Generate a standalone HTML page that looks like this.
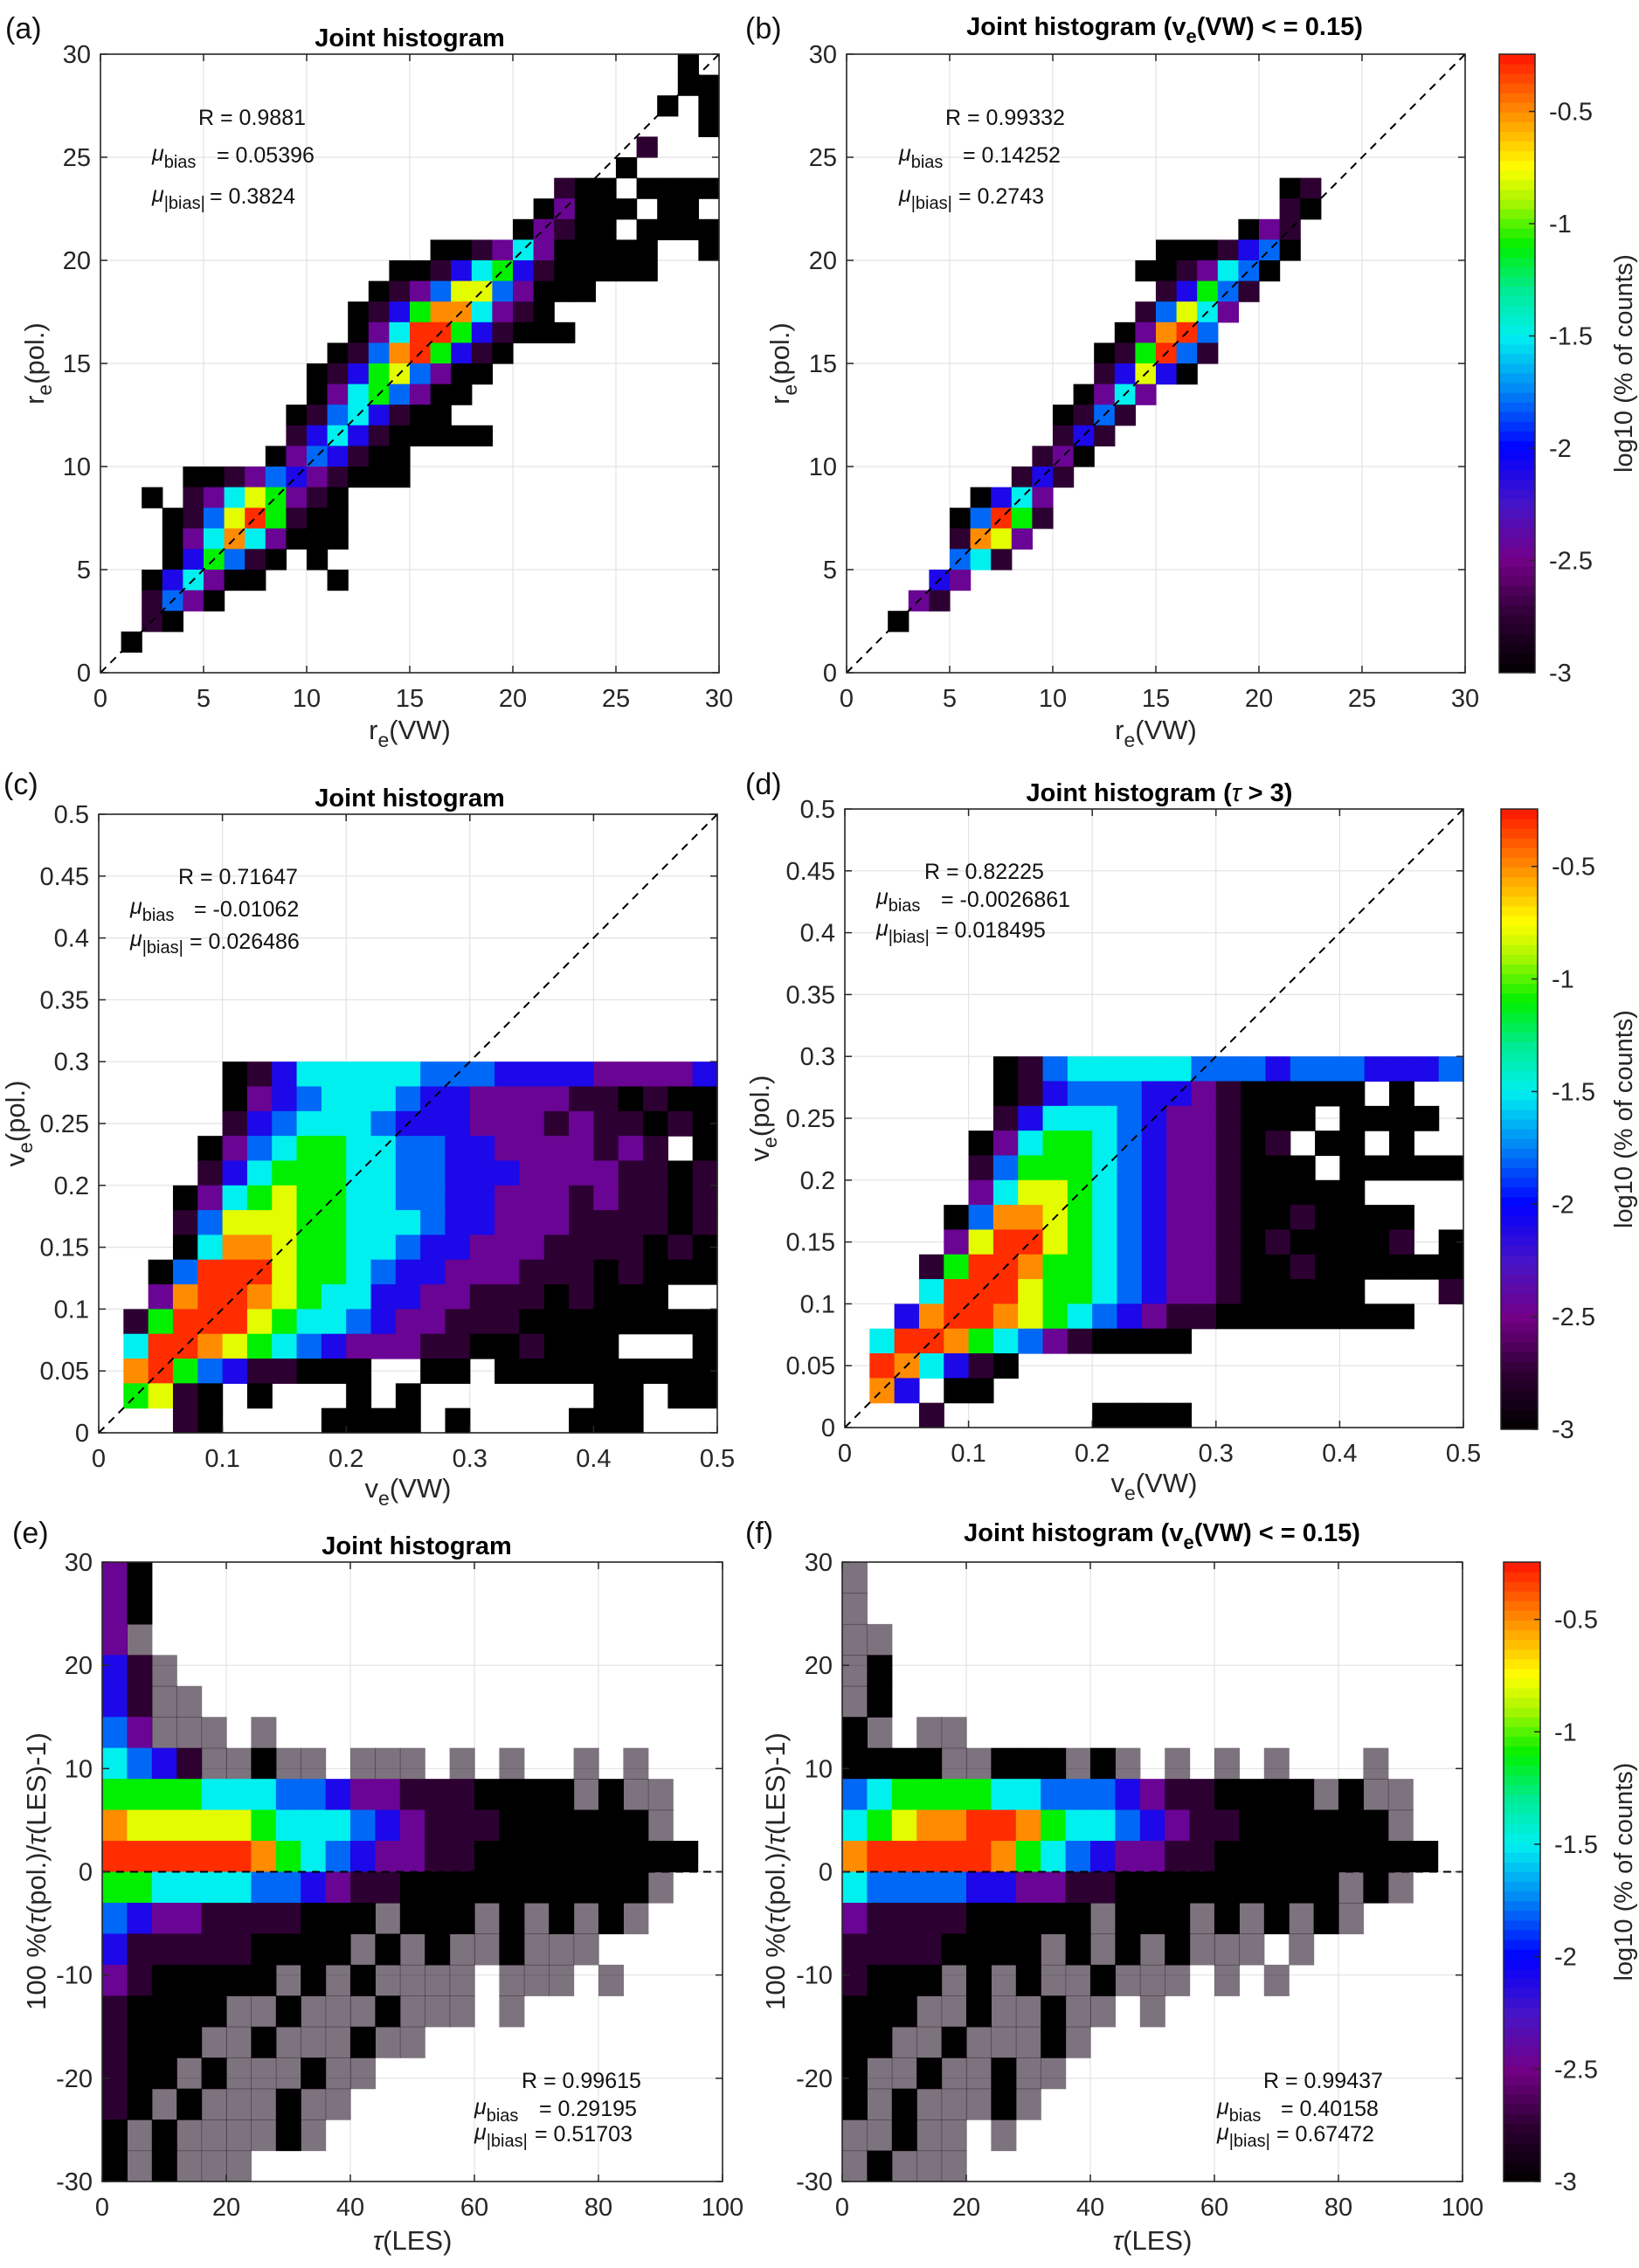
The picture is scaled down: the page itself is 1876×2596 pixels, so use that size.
<!DOCTYPE html>
<html><head><meta charset="utf-8">
<style>
html,body{margin:0;padding:0;background:#fff;}
svg{display:block;font-family:"Liberation Sans","DejaVu Sans",sans-serif;}
</style></head>
<body>
<svg id="fig" xmlns="http://www.w3.org/2000/svg" width="1876" height="2596" viewBox="0 0 1876 2596"></svg>
<script>
// ---------- data ----------
const levelChars = ['0','1','2','3','4','5','6','7','8','9','s'];
const levelLogs  = [-3,-2.75,-2.45,-2.1,-1.8,-1.5,-1.1,-0.8,-0.5,-0.3,-2.9];

const xTicksRe = [0,5,10,15,20,25,30];
const yTicksRe = [0,5,10,15,20,25,30];
const xTicksV = [0,0.1,0.2,0.3,0.4,0.5];
const xTickLabelsV = ['0','0.1','0.2','0.3','0.4','0.5'];
const yTicksV = [0,0.05,0.1,0.15,0.2,0.25,0.3,0.35,0.4,0.45,0.5];
const yTickLabelsV = ['0','0.05','0.1','0.15','0.2','0.25','0.3','0.35','0.4','0.45','0.5'];
const xTicksTau = [0,20,40,60,80,100];
const yTicksPct = [-30,-20,-10,0,10,20,30];
const cbTicks = [-3,-2.5,-2,-1.5,-1,-0.5];
const cbTickLabels = ['-3','-2.5','-2','-1.5','-1','-0.5'];

// panel (a): rows y=29..0 (1-unit bins), cols x=0..29
const gridA = [
"............................0.",
"............................00",
"...........................0.0",
".............................0",
"..........................1",
".........................0",
"......................100.0000",
".....................02000.00",
"....................02100.0000",
"................00125200000..0",
"..............0013563100000",
".............01247742000",
"............0136885210",
"............02599631000",
"...........014896310",
"..........013674200",
"..........02564200",
".........01453100",
".........1353100000",
"........0243100",
"....00124321000",
"..0.12576210",
"...014796100",
"...025852000",
"...036410.0",
"..035200...0",
"..1420",
"..10",
".0",
""
];
const gridB = [
"","","","","","",
".....................01",
".....................10",
"...................021",
"...............0001340",
"..............0012540",
"...............13641",
"..............14752",
".............02894",
"............016941",
"............13730",
"...........0252",
"..........0141",
"..........131",
".........120",
"........131",
"......0352",
".....04961",
".....1872",
".....451",
"....32",
"...21",
"..0",
"",""
];
// panels (c),(d): rows y=0.30..0 (0.02 bins), cols x=0..0.5 (0.02 bins)
const gridC = [
".....01355555444333322223",
".....02345554332222110100",
".....13455543332221211010",
"....0245665544332222121.0",
"....135666554433322221101",
"...0256766554433222121101",
"...1477766555433222111101",
"...0588766554332221111010",
"..04999766543322211101000",
"..289987655332211101000..",
".169997655432211100000000",
".59987654322211001000...0",
".8964311000..00.000000000",
".6710.0...0.0.......00.00",
"...10....0000.0....000..."
];
const gridD = [
"......0145555544434443334",
"......013444332100000.0..",
"......1355543221000.0000.",
".....0256654322101.00.0..",
".....14666543221000.00000",
".....2577654322100000....",
"....0488765432210010000..",
"....2799765432210100001.0",
"...1699866543221001000000",
"...599976654322100000...1",
"..389987654321100000000..",
".5998654210000...........",
".985310..................",
".83.00...................",
"...1......0000..........."
];
// panels (e),(f): rows y=30..-30 (3-unit bins), cols tau=0..100 (4-unit bins)
const gridE = [
"20",
"20",
"2s",
"31s",
"31ss",
"42sss.s",
"5431ss0ss.sss.s.s..s.s...",
"6666555443221110000s0ss..",
"8777776555432111000000s..",
"999999865432211000000000.",
"6655554432110000000000s..",
"43221111000s000s0s0s0s...",
"3111110000s0s0ss0sss.....",
"2100000s0s0ssss.sss.s....",
"10000ss0sss0sss.s........",
"1000ss0sss0ss............",
"100s0sss0ss..............",
"10s0sss0ss...............",
"0s0ssss0s................",
"0s0sss..................."
];
const gridF = [
"s",
"s",
"ss",
"s0",
"s0",
"0s.ss",
"0000ss000s0s.s.s.s...s...",
"4566665544432110000s0ss..",
"5678899865543211000000s..",
"899999865432211000000000.",
"54444332211000000000s0s..",
"2111100000s000s0s0s0s....",
"11110000s0s0s0sss.s......",
"1000s0s0ss0sss.s.s.......",
"000ss0ss0ss.s............",
"00ss0sss0s...............",
"0ss0ss0ss................",
"0s0sss0s.................",
"ss0ss.s..................",
"s0sss...................."
];

// ---------- rendering ----------
const NS='http://www.w3.org/2000/svg';
const svg=document.getElementById('fig');
function mk(tag,attrs,parent){const e=document.createElementNS(NS,tag);for(const k in attrs)e.setAttribute(k,attrs[k]);(parent||svg).appendChild(e);return e;}

const cmStops=[[-3,0,0,0],[-2.75,45,0,50],[-2.5,115,0,135],[-2.25,70,20,200],[-2,0,0,255],[-1.75,0,130,245],[-1.5,0,240,240],[-1.3,0,235,150],[-1.1,0,240,0],[-0.9,170,245,0],[-0.75,255,255,0],[-0.5,255,140,0],[-0.3,255,45,0],[-0.2,255,0,0]];
function cmap(v){
  if(v<=cmStops[0][0])return 'rgb(0,0,0)';
  for(let i=1;i<cmStops.length;i++){const a=cmStops[i-1],b=cmStops[i];
    if(v<=b[0]){const t=(v-a[0])/(b[0]-a[0]);return 'rgb('+[1,2,3].map(j=>Math.round(a[j]+t*(b[j]-a[j]))).join(',')+')';}}
  return 'rgb(255,0,0)';
}

const panels=[
 {id:'a',L:115,R:823,T:62,B:770,xd:[0,30],yd:[0,30],xt:xTicksRe,xl:xTicksRe.map(String),yt:yTicksRe,yl:yTicksRe.map(String),grid:gridA,dx:1,dy:1,yTop:30,diag:true},
 {id:'b',L:969,R:1677,T:62,B:770,xd:[0,30],yd:[0,30],xt:xTicksRe,xl:xTicksRe.map(String),yt:yTicksRe,yl:yTicksRe.map(String),grid:gridB,dx:1,dy:1,yTop:30,diag:true},
 {id:'c',L:113,R:821,T:932,B:1640,xd:[0,0.5],yd:[0,0.5],xt:xTicksV,xl:xTickLabelsV,yt:yTicksV,yl:yTickLabelsV,grid:gridC,dx:0.02,dy:0.02,yTop:0.30,diag:true},
 {id:'d',L:967,R:1675,T:926,B:1634,xd:[0,0.5],yd:[0,0.5],xt:xTicksV,xl:xTickLabelsV,yt:yTicksV,yl:yTickLabelsV,grid:gridD,dx:0.02,dy:0.02,yTop:0.30,diag:true},
 {id:'e',L:117,R:827,T:1788,B:2497,xd:[0,100],yd:[-30,30],xt:xTicksTau,xl:xTicksTau.map(String),yt:yTicksPct,yl:yTicksPct.map(String),grid:gridE,dx:4,dy:3,yTop:30,diag:false},
 {id:'f',L:964,R:1674,T:1788,B:2497,xd:[0,100],yd:[-30,30],xt:xTicksTau,xl:xTicksTau.map(String),yt:yTicksPct,yl:yTicksPct.map(String),grid:gridF,dx:4,dy:3,yTop:30,diag:false}
];

panels.forEach(p=>{
  const g=mk('g',{});
  
  
  const xs=v=>p.L+(v-p.xd[0])/(p.xd[1]-p.xd[0])*(p.R-p.L);
  const ys=v=>p.B-(v-p.yd[0])/(p.yd[1]-p.yd[0])*(p.B-p.T);
  // grid lines
  p.xt.forEach(v=>{if(v>p.xd[0]&&v<p.xd[1])mk('line',{x1:xs(v),x2:xs(v),y1:p.T,y2:p.B,stroke:'#e2e2e2','stroke-width':1.2},g);});
  p.yt.forEach(v=>{if(v>p.yd[0]&&v<p.yd[1])mk('line',{x1:p.L,x2:p.R,y1:ys(v),y2:ys(v),stroke:'#e2e2e2','stroke-width':1.2},g);});
  // heatmap cells
  const cells=mk('g',{},g);
  
  
  p.grid.forEach((row,r)=>{
    for(let c=0;c<row.length;c++){
      const ch=row[c]; const k=levelChars.indexOf(ch); if(k<0)continue;
      const x0=xs(p.xd[0]+c*p.dx), x1=xs(p.xd[0]+(c+1)*p.dx);
      const y0=ys(p.yTop-r*p.dy), y1=ys(p.yTop-(r+1)*p.dy);
      const rc=mk('rect',{x:x0,y:y0,width:x1-x0+0.6,height:y1-y0+0.6,fill:cmap(levelLogs[k])},cells);
      if(ch==='s')rc.setAttribute('fill-opacity','0.55');
      
      
    }
  });
  // reference dashed line
  let ref;
  if(p.diag) ref=mk('line',{x1:xs(p.xd[0]),y1:ys(p.yd[0]),x2:xs(p.xd[1]),y2:ys(p.yd[1]),stroke:'#000','stroke-width':2,'stroke-dasharray':'9,7'},g);
  else ref=mk('line',{x1:p.L,y1:ys(0),x2:p.R,y2:ys(0),stroke:'#000','stroke-width':2,'stroke-dasharray':'9,7'},g);
  
  
  // box
  mk('rect',{x:p.L,y:p.T,width:p.R-p.L,height:p.B-p.T,fill:'none',stroke:'#262626','stroke-width':1.6},g);
  // ticks and labels
  const xa=mk('g',{},g);
  
  
  p.xt.forEach((v,i)=>{
    mk('line',{x1:xs(v),x2:xs(v),y1:p.B,y2:p.B-8,stroke:'#262626','stroke-width':1.5},xa);
    mk('line',{x1:xs(v),x2:xs(v),y1:p.T,y2:p.T+8,stroke:'#262626','stroke-width':1.5},xa);
    const t=mk('text',{x:xs(v),y:p.B+39,'text-anchor':'middle','font-size':29,fill:'#262626'},xa);t.textContent=p.xl[i];
    
    
  });
  const ya=mk('g',{},g);
  
  
  p.yt.forEach((v,i)=>{
    mk('line',{x1:p.L,x2:p.L+8,y1:ys(v),y2:ys(v),stroke:'#262626','stroke-width':1.5},ya);
    mk('line',{x1:p.R,x2:p.R-8,y1:ys(v),y2:ys(v),stroke:'#262626','stroke-width':1.5},ya);
    const t=mk('text',{x:p.L-11,y:ys(v)+10,'text-anchor':'end','font-size':29,fill:'#262626'},ya);t.textContent=p.yl[i];
    
    
  });
});

// ---------- colorbars ----------
const cbs=[{L:1716,R:1757,T:62,B:770},{L:1718,R:1760,T:926,B:1636},{L:1721,R:1763,T:1788,B:2497}];
const cbTop=-0.245, cbBot=-3;
cbs.forEach((b,ci)=>{
  const g=mk('g',{});
  
  
  const cy=v=>b.B-(v-cbBot)/(cbTop-cbBot)*(b.B-b.T);
  const n=64;
  for(let i=0;i<n;i++){
    const v0=cbBot+(cbTop-cbBot)*i/n, v1=cbBot+(cbTop-cbBot)*(i+1)/n;
    mk('rect',{x:b.L,y:cy(v1),width:b.R-b.L,height:cy(v0)-cy(v1)+0.5,fill:cmap((v0+v1)/2)},g);
  }
  mk('rect',{x:b.L,y:b.T,width:b.R-b.L,height:b.B-b.T,fill:'none',stroke:'#262626','stroke-width':1.5},g);
  cbTicks.forEach((v,i)=>{
    mk('line',{x1:b.R,x2:b.R-7,y1:cy(v),y2:cy(v),stroke:'#262626','stroke-width':1.5},g);
    const t=mk('text',{x:b.R+16,y:cy(v)+10,'font-size':29,fill:'#262626'},g);t.textContent=cbTickLabels[i];
    
    
  });
  const mid=(b.T+b.B)/2;
  const lt=mk('text',{x:1868,y:mid,'text-anchor':'middle','font-size':29,fill:'#262626',transform:'rotate(-90 1868 '+mid+')'},g);
  lt.textContent='log10 (% of counts)';
  
  
});
</script>

<!-- static text overlays -->
<svg style="position:absolute;left:0;top:0" width="1876" height="2596" xmlns="http://www.w3.org/2000/svg" font-family="Liberation Sans, DejaVu Sans, sans-serif" fill="#262626">
  <!-- panel letters -->
  <text x="6" y="44" font-size="34" fill="#111">(a)</text>
  <text x="853" y="44" font-size="34" fill="#111">(b)</text>
  <text x="4" y="909" font-size="34" fill="#111">(c)</text>
  <text x="853" y="909" font-size="34" fill="#111">(d)</text>
  <text x="14" y="1766" font-size="34" fill="#111">(e)</text>
  <text x="853" y="1766" font-size="34" fill="#111">(f)</text>

  <!-- titles -->
  <text x="469" y="53" font-size="29" font-weight="bold" text-anchor="middle" fill="#000">Joint histogram</text>
  <text x="1333" y="40" font-size="29" font-weight="bold" text-anchor="middle" fill="#000">Joint histogram (v<tspan dy="9" font-size="22">e</tspan><tspan dy="-9">(VW) &lt; = 0.15)</tspan></text>
  <text x="469" y="923" font-size="29" font-weight="bold" text-anchor="middle" fill="#000">Joint histogram</text>
  <text x="1327" y="917" font-size="29" font-weight="bold" text-anchor="middle" fill="#000">Joint histogram (<tspan font-style="italic" font-weight="normal">τ</tspan> &gt; 3)</text>
  <text x="477" y="1779" font-size="29" font-weight="bold" text-anchor="middle" fill="#000">Joint histogram</text>
  <text x="1330" y="1764" font-size="29" font-weight="bold" text-anchor="middle" fill="#000">Joint histogram (v<tspan dy="9" font-size="22">e</tspan><tspan dy="-9">(VW) &lt; = 0.15)</tspan></text>

  <!-- x-axis titles -->
  <text x="469" y="846" font-size="31" text-anchor="middle">r<tspan dy="9" font-size="23">e</tspan><tspan dy="-9">(VW)</tspan></text>
  <text x="1323" y="846" font-size="31" text-anchor="middle">r<tspan dy="9" font-size="23">e</tspan><tspan dy="-9">(VW)</tspan></text>
  <text x="467" y="1714" font-size="31" text-anchor="middle">v<tspan dy="9" font-size="23">e</tspan><tspan dy="-9">(VW)</tspan></text>
  <text x="1321" y="1708" font-size="31" text-anchor="middle">v<tspan dy="9" font-size="23">e</tspan><tspan dy="-9">(VW)</tspan></text>
  <text x="472" y="2575" font-size="31" text-anchor="middle"><tspan font-style="italic">τ</tspan>(LES)</text>
  <text x="1319" y="2575" font-size="31" text-anchor="middle"><tspan font-style="italic">τ</tspan>(LES)</text>

  <!-- y-axis titles -->
  <text x="50" y="416" font-size="31" text-anchor="middle" transform="rotate(-90 50 416)">r<tspan dy="9" font-size="23">e</tspan><tspan dy="-9">(pol.)</tspan></text>
  <text x="903" y="416" font-size="31" text-anchor="middle" transform="rotate(-90 903 416)">r<tspan dy="9" font-size="23">e</tspan><tspan dy="-9">(pol.)</tspan></text>
  <text x="28" y="1286" font-size="31" text-anchor="middle" transform="rotate(-90 28 1286)">v<tspan dy="9" font-size="23">e</tspan><tspan dy="-9">(pol.)</tspan></text>
  <text x="880" y="1280" font-size="31" text-anchor="middle" transform="rotate(-90 880 1280)">v<tspan dy="9" font-size="23">e</tspan><tspan dy="-9">(pol.)</tspan></text>
  <text x="52" y="2142" font-size="31" text-anchor="middle" transform="rotate(-90 52 2142)">100 %(<tspan font-style="italic">τ</tspan>(pol.)/<tspan font-style="italic">τ</tspan>(LES)-1)</text>
  <text x="898" y="2142" font-size="31" text-anchor="middle" transform="rotate(-90 898 2142)">100 %(<tspan font-style="italic">τ</tspan>(pol.)/<tspan font-style="italic">τ</tspan>(LES)-1)</text>

  <!-- stats annotations -->
  <g font-size="25" fill="#111">
    <text x="227" y="143">R = 0.9881</text>
    <text x="174" y="184"><tspan font-style="italic">μ</tspan><tspan dy="8" font-size="20">bias</tspan></text>
    <text x="248" y="186">= 0.05396</text>
    <text x="174" y="231"><tspan font-style="italic">μ</tspan><tspan dy="8" font-size="20">|bias|</tspan></text>
    <text x="240" y="233">= 0.3824</text>
  </g>
  <g font-size="25" fill="#111">
    <text x="1082" y="143">R = 0.99332</text>
    <text x="1029" y="184"><tspan font-style="italic">μ</tspan><tspan dy="8" font-size="20">bias</tspan></text>
    <text x="1102" y="186">= 0.14252</text>
    <text x="1029" y="231"><tspan font-style="italic">μ</tspan><tspan dy="8" font-size="20">|bias|</tspan></text>
    <text x="1097" y="233">= 0.2743</text>
  </g>
  <g font-size="25" fill="#111">
    <text x="204" y="1012">R = 0.71647</text>
    <text x="149" y="1046"><tspan font-style="italic">μ</tspan><tspan dy="8" font-size="20">bias</tspan></text>
    <text x="222" y="1049">= -0.01062</text>
    <text x="149" y="1083"><tspan font-style="italic">μ</tspan><tspan dy="8" font-size="20">|bias|</tspan></text>
    <text x="217" y="1086">= 0.026486</text>
  </g>
  <g font-size="25" fill="#111">
    <text x="1058" y="1006">R = 0.82225</text>
    <text x="1003" y="1035"><tspan font-style="italic">μ</tspan><tspan dy="8" font-size="20">bias</tspan></text>
    <text x="1077" y="1038">= -0.0026861</text>
    <text x="1003" y="1071"><tspan font-style="italic">μ</tspan><tspan dy="8" font-size="20">|bias|</tspan></text>
    <text x="1071" y="1073">= 0.018495</text>
  </g>
  <g font-size="25" fill="#111">
    <text x="597" y="2390">R = 0.99615</text>
    <text x="543" y="2420"><tspan font-style="italic">μ</tspan><tspan dy="8" font-size="20">bias</tspan></text>
    <text x="617" y="2422">= 0.29195</text>
    <text x="543" y="2449"><tspan font-style="italic">μ</tspan><tspan dy="8" font-size="20">|bias|</tspan></text>
    <text x="612" y="2451">= 0.51703</text>
  </g>
  <g font-size="25" fill="#111">
    <text x="1446" y="2390">R = 0.99437</text>
    <text x="1393" y="2420"><tspan font-style="italic">μ</tspan><tspan dy="8" font-size="20">bias</tspan></text>
    <text x="1466" y="2422">= 0.40158</text>
    <text x="1393" y="2449"><tspan font-style="italic">μ</tspan><tspan dy="8" font-size="20">|bias|</tspan></text>
    <text x="1461" y="2451">= 0.67472</text>
  </g>
</svg>
</body></html>
